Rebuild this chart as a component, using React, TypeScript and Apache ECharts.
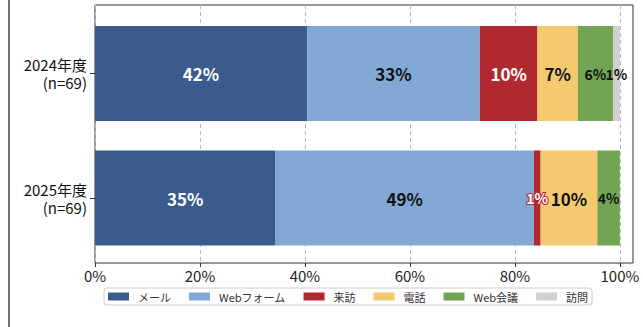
import React, { useEffect, useRef } from "react";
import * as echarts from "echarts";

const years = ["2024年度\n(n=69)", "2025年度\n(n=69)"];
const channels = ["メール", "Webフォーム", "来訪", "電話", "Web会議", "訪問"];
const colors = ["#3b5b8e", "#82a8d5", "#b22830", "#f5c96f", "#71a553", "#d0d0d0"];
const values2024 = [40.4, 32.9, 11.0, 7.7, 6.7, 1.3];
const values2025 = [34.4, 49.2, 1.3, 10.8, 4.3, 0];
const labels2024 = ["42%", "33%", "10%", "7%", "6%", "1%"];
const labels2025 = ["35%", "49%", "1%", "10%", "4%", ""];
const xTicks = [0, 20, 40, 60, 80, 100];

const FONT = "'Noto Sans CJK JP', 'Noto Sans', sans-serif";

export default function App() {
  const ref = useRef<HTMLDivElement>(null);
  useEffect(() => {
    if (!ref.current) return;
    const chart = echarts.init(ref.current, null, { renderer: "svg" });
    const valuesByYear = [values2024, values2025];
    const labelsByYear = [labels2024, labels2025];

    const labelStyle = (y: number, c: number) => {
      const v = valuesByYear[y][c];
      const small = v < 7;
      const s: any = {
        show: labelsByYear[y][c] !== "",
        formatter: labelsByYear[y][c],
        position: "inside",
        fontFamily: FONT,
        fontWeight: "bold",
        fontSize: small ? 14 : 17,
        color: "#111",
      };
      if (c === 0 || (c === 2 && y === 0)) s.color = "#fff";
      if (c === 2 && y === 1) {
        s.color = "#fff";
        s.textBorderColor = colors[2];
        s.textBorderWidth = 2;
      }
      return s;
    };

    const series = channels.map((name, c) => ({
      name,
      type: "bar",
      stack: "total",
      xAxisIndex: 1,
      yAxisIndex: 1,
      barWidth: 95,
      itemStyle: { color: colors[c] },
      data: years.map((_, y) => ({
        value: valuesByYear[y][c],
        label: labelStyle(y, c),
      })),
    }));

    chart.setOption({
      animation: false,
      textStyle: { fontFamily: FONT },
      grid: [
        { left: 95, top: 5, width: 538, height: 258, show: true, borderColor: "#333", borderWidth: 1, backgroundColor: "transparent" },
        { left: 95, top: 11.25, width: 538, height: 249 },
      ],
      xAxis: [
        {
          gridIndex: 0,
          type: "value",
          min: 0,
          max: 102.5,
          interval: 20,
          axisLine: { show: false },
          axisTick: { show: true, length: 4, lineStyle: { color: "#333" }, customValues: xTicks },
          axisLabel: {
            customValues: xTicks,
            formatter: (v: number) => `${v}%`,
            fontSize: 15,
            color: "#222",
            margin: 5,
            fontFamily: FONT,
          },
          splitLine: { show: true, lineStyle: { color: "#bbb", type: [4, 3], width: 1 } },
        },
        { gridIndex: 1, type: "value", min: 0, max: 102.5, show: false, splitLine: { show: false } },
      ],
      yAxis: [
        { gridIndex: 0, type: "value", show: false, splitLine: { show: false } },
        {
          gridIndex: 1,
          type: "category",
          data: years,
          inverse: true,
          axisLine: { show: false },
          axisTick: { show: true, alignWithLabel: true, length: 5, lineStyle: { color: "#333" } },
          axisLabel: {
            fontSize: 15,
            lineHeight: 18,
            color: "#111",
            margin: 8,
            align: "right",
            fontFamily: FONT,
          },
        },
      ],
      legend: {
        data: channels,
        left: 104,
        top: 288,
        itemWidth: 21,
        itemHeight: 8,
        itemGap: 18,
        padding: [3, 4],
        icon: "rect",
        borderColor: "#ccc",
        borderWidth: 1,
        borderRadius: 3,
        backgroundColor: "#fff",
        textStyle: { fontSize: 11, color: "#333", fontFamily: FONT, padding: [0, 0, 0, 4] },
      },
      graphic: [
        { type: "line", shape: { x1: 9, y1: 0, x2: 9, y2: 327 }, style: { stroke: "#444", lineWidth: 1.5 } },
      ],
      series,
    });
    return () => chart.dispose();
  }, []);
  return <div ref={ref} style={{ position: "fixed", left: 0, top: 0, width: 643, height: 327, background: "#fff" }} />;
}
